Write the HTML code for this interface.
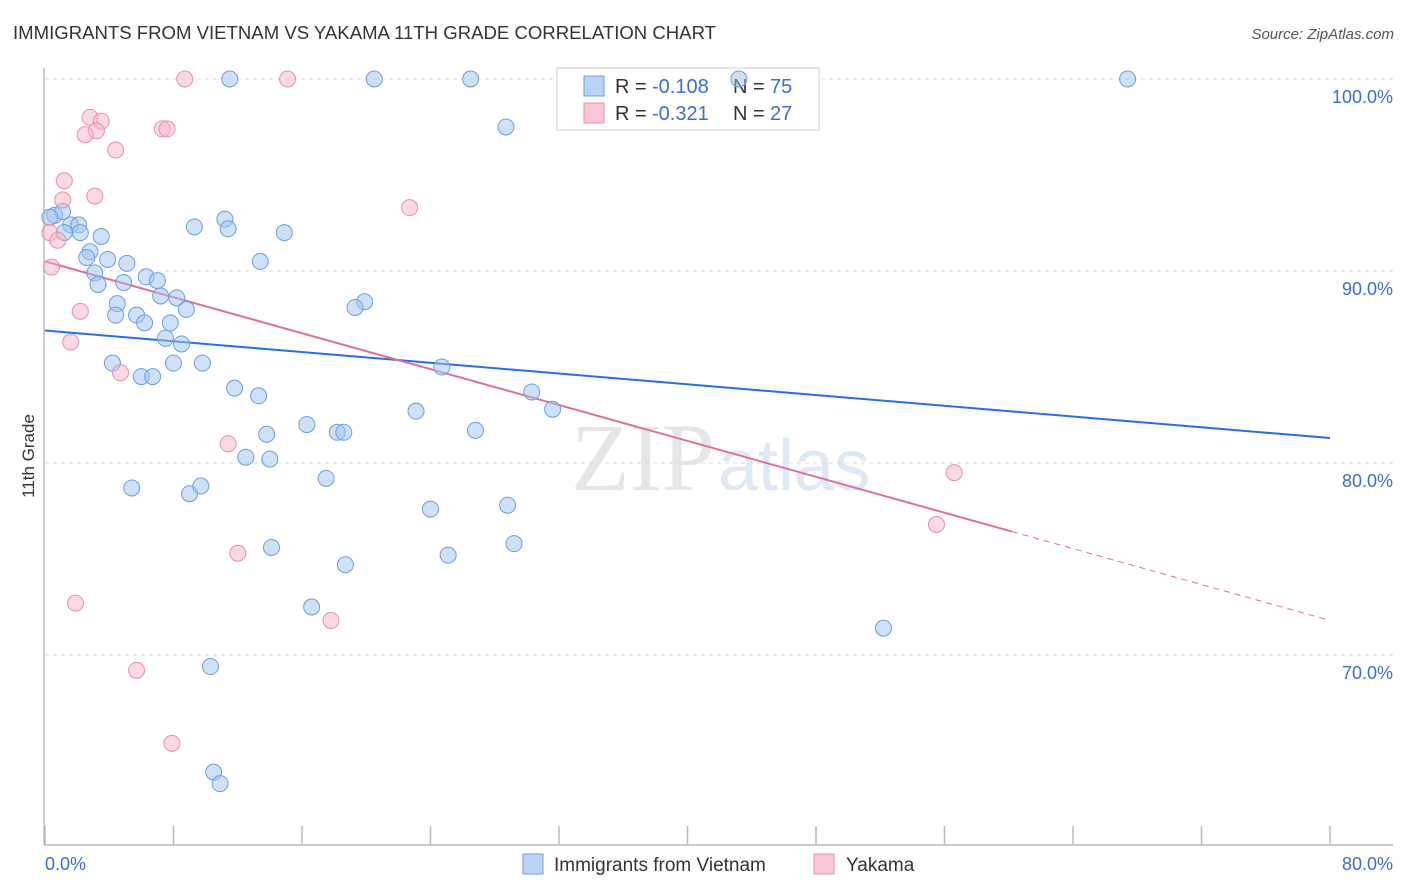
<!DOCTYPE html>
<html><head><meta charset="utf-8"><style>
body{margin:0;background:#fff;font-family:"Liberation Sans",sans-serif;}
svg{display:block}
</style></head><body>
<svg width="1406" height="892" id="chart">
<text x="13" y="39" font-size="18" fill="#333" textLength="703" lengthAdjust="spacingAndGlyphs">IMMIGRANTS FROM VIETNAM VS YAKAMA 11TH GRADE CORRELATION CHART</text>
<text x="1394" y="39" font-size="15" fill="#555" font-style="italic" text-anchor="end">Source: ZipAtlas.com</text>
<text x="34" y="456" font-size="17" fill="#333" text-anchor="middle" transform="rotate(-90 34 456)">11th Grade</text>
<text x="715" y="490" font-size="96" fill="#e6e6e6" text-anchor="end" font-family="Liberation Serif">ZIP</text>
<text x="718" y="490" font-size="72" fill="#dfe8f5">atlas</text>
<g id="grid"></g><g id="axes"></g>
<g>
<rect x="557" y="68" width="262" height="62" fill="#fff" stroke="#ccc"/>
<rect x="584" y="76" width="20" height="20" fill="#b8d3f5" stroke="#6a9fe0"/>
<rect x="584" y="103" width="20" height="20" fill="#f9c6d6" stroke="#e890ab"/>
<text x="615" y="93" font-size="20" fill="#333">R = </text><text x="652" y="93" font-size="20" fill="#3a6fd0">-0.108</text>
<text x="733" y="93" font-size="20" fill="#333">N = </text><text x="770" y="93" font-size="20" fill="#3a6fd0">75</text>
<text x="615" y="120" font-size="20" fill="#333">R = </text><text x="652" y="120" font-size="20" fill="#3a6fd0">-0.321</text>
<text x="733" y="120" font-size="20" fill="#333">N = </text><text x="770" y="120" font-size="20" fill="#3a6fd0">27</text>
</g>
<g id="trend"></g><g id="pts"></g>
<g>
<rect x="523" y="854" width="20" height="20" fill="#b8d3f5" stroke="#6a9fe0"/>
<text x="554" y="871" font-size="19" fill="#333">Immigrants from Vietnam</text>
<rect x="814" y="854" width="20" height="20" fill="#f9c6d6" stroke="#e890ab"/>
<text x="846" y="871" font-size="19" fill="#333">Yakama</text>
</g>
</svg>
<script>
const blueX=[11.5,20.5,26.5,67.4,43.2,28.7,0.6,1.1,0.3,1.6,2.1,1.2,2.2,3.5,2.8,2.6,3.9,5.1,3.1,3.3,4.9,6.3,7.0,4.5,7.2,8.2,8.8,4.4,5.7,6.2,7.8,7.5,8.5,4.2,6.0,6.7,8.0,9.8,9.3,11.2,11.4,14.9,13.4,19.9,19.3,24.7,11.8,13.3,30.3,31.6,23.1,13.8,16.3,18.2,18.6,26.8,12.5,14.0,17.5,5.4,9.0,9.7,24.0,28.8,14.1,29.2,25.1,18.7,16.6,52.2,10.3,10.5,10.9];
const blueY=[100,100,100,100,100,97.5,92.9,93.1,92.8,92.4,92.4,92.0,92.0,91.8,91.0,90.7,90.6,90.4,89.9,89.3,89.4,89.7,89.5,88.3,88.7,88.6,88.0,87.7,87.7,87.3,87.3,86.5,86.2,85.2,84.5,84.5,85.2,85.2,92.3,92.7,92.2,92.0,90.5,88.4,88.1,85.0,83.9,83.5,83.7,82.8,82.7,81.5,82.0,81.6,81.6,81.7,80.3,80.2,79.2,78.7,78.4,78.8,77.6,77.8,75.6,75.8,75.2,74.7,72.5,71.4,69.4,63.9,63.3];
const pinkX=[8.7,15.1,2.8,3.5,3.2,2.5,7.3,7.6,4.4,1.2,3.1,1.1,22.7,0.3,0.8,0.4,2.2,1.6,4.7,11.4,56.6,55.5,12.0,1.9,17.8,5.7,7.9];
const pinkY=[100,100,98.0,97.8,97.3,97.1,97.4,97.4,96.3,94.7,93.9,93.7,93.3,92.0,91.6,90.2,87.9,86.3,84.7,81.0,79.5,76.8,75.3,72.7,71.8,69.2,65.4];
const blueTrend=[86.9,81.3];
const pinkTrend=[90.5,71.8];
const pinkSolidEnd=60.2;
const yTicks=[100,90,80,70];
const yTickLabels=["100.0%","90.0%","80.0%","70.0%"];
const xTicks=[0,8,16,24,32,40,48,56,64,72,80];
const NS="http://www.w3.org/2000/svg";
const sx=v=>45+v*1285/80;
const sy=v=>79+(100-v)*19.2;
function mk(tag,attrs,parent){const e=document.createElementNS(NS,tag);for(const k in attrs)e.setAttribute(k,attrs[k]);document.getElementById(parent).appendChild(e);return e;}
yTicks.forEach((t,i)=>{
  const l=mk('line',{x1:45,x2:1393,y1:sy(t),y2:sy(t),stroke:'#ddd','stroke-dasharray':'4,4'},'grid');
  
  
  const tx=mk('text',{x:1393,y:sy(t)+24,'font-size':18,fill:'#3a6fd0','text-anchor':'end'},'grid');
  tx.textContent=yTickLabels[i];
  
  
});
let a=mk('line',{x1:44,x2:44,y1:68,y2:845,stroke:'#bbb','stroke-width':1.5},'axes');


a=mk('line',{x1:44,x2:1393,y1:845,y2:845,stroke:'#bbb','stroke-width':1.5},'axes');


xTicks.forEach(t=>{const l=mk('line',{x1:sx(t),x2:sx(t),y1:826,y2:845,stroke:'#bbb','stroke-width':1.5},'axes');
  
  });
let xl=mk('text',{x:45,y:870,'font-size':18,fill:'#3a6fd0'},'axes');xl.textContent='0.0%';


xl=mk('text',{x:1393,y:870,'font-size':18,fill:'#3a6fd0','text-anchor':'end'},'axes');xl.textContent='80.0%';


blueX.forEach((x,i)=>{const c=mk('circle',{cx:sx(x),cy:sy(blueY[i]),r:8,fill:'rgba(160,196,240,0.5)',stroke:'#6a9fe0','stroke-width':1},'pts');
  
  });
pinkX.forEach((x,i)=>{const c=mk('circle',{cx:sx(x),cy:sy(pinkY[i]),r:8,fill:'rgba(245,180,200,0.5)',stroke:'#e890ab','stroke-width':1},'pts');
  
  });
let t=mk('line',{x1:sx(0),y1:sy(blueTrend[0]),x2:sx(80),y2:sy(blueTrend[1]),stroke:'#2a6fdb','stroke-width':2},'trend');


const pEnd=pinkTrend[0]+(pinkTrend[1]-pinkTrend[0])*pinkSolidEnd/80;
t=mk('line',{x1:sx(0),y1:sy(pinkTrend[0]),x2:sx(pinkSolidEnd),y2:sy(pEnd),stroke:'#e0709a','stroke-width':2},'trend');


t=mk('line',{x1:sx(pinkSolidEnd),y1:sy(pEnd),x2:sx(80),y2:sy(pinkTrend[1]),stroke:'#e0709a','stroke-width':1,'stroke-dasharray':'6,5'},'trend');


</script>
</body></html>
